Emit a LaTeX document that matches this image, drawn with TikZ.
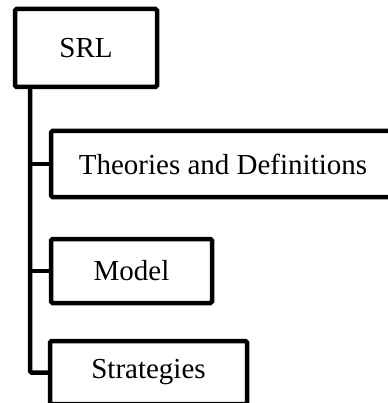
\documentclass[tikz,border=0pt]{standalone}
\usepackage{fontspec}
\setmainfont{Liberation Serif}
\begin{document}
\begin{tikzpicture}[x=1pt,y=-1pt,
  box/.style={draw=black, line width=4.5pt, rounded corners=1.5pt, fill=white,
    inner sep=0pt, font=\fontsize{29}{34}\selectfont},
  link/.style={draw=black, line width=4.5pt, rounded corners=1.5pt}]
  \useasboundingbox (0,0) rectangle (387,403);
  % root and the three branches
  \node[box, minimum width=142pt, minimum height=78pt] (srl) at (86,48) {SRL};
  \node[box, minimum width=349pt, minimum height=66pt] (theo) at (225.5,164) {\hspace*{-5pt}Theories and Definitions\hspace*{0pt}};
  \node[box, minimum width=161pt, minimum height=64pt] (model) at (131.5,271) {Model};
  \node[box, minimum width=197pt, minimum height=63pt] (strat) at (148.5,372.5) {Strategies};
  % trunk running down from the root
  \coordinate (trunk) at (30,87);
  \draw[link] (trunk) |- (strat.west);
  \draw[link] (trunk |- theo.west) -- (theo.west);
  \draw[link] (trunk |- model.west) -- (model.west);
\end{tikzpicture}
\end{document}
